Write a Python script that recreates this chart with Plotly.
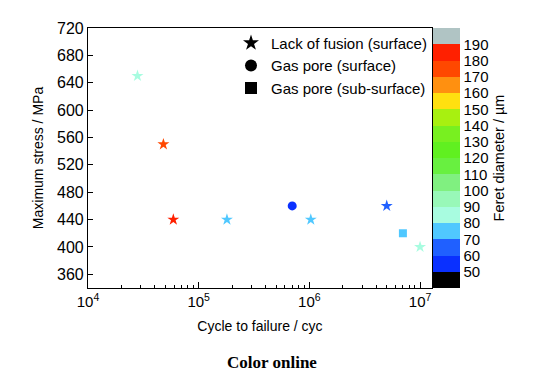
import plotly.graph_objects as go

# Data
lof_cycles = [2.8e4, 4.8e4, 5.9e4, 1.8e5, 1.03e6, 5.0e6, 1.0e7]
lof_stress = [650, 550, 440, 440, 440, 460, 400]
lof_feret = [85, 175, 183, 75, 75, 65, 85]

gp_surf_cycles = [7.0e5]
gp_surf_stress = [460]
gp_surf_feret = [55]

gp_sub_cycles = [7.0e6]
gp_sub_stress = [420]
gp_sub_feret = [75]

cbar_ticks = [50, 60, 70, 80, 90, 100, 110, 120, 130, 140, 150, 160, 170, 180, 190]
level_colors = ["#000000", "#0a30ff", "#2060ff", "#50c8ff", "#a8fce0", "#98f8b8",
                "#80f080", "#68f040", "#60f020", "#78f020", "#a8f010", "#ffe010",
                "#ff9010", "#ff4800", "#ff2000", "#b0c4c4"]
cmin, cmax = 40, 200

x_major = [1e4, 1e5, 1e6, 1e7]
x_major_text = ["10<sup>4</sup>", "10<sup>5</sup>", "10<sup>6</sup>", "10<sup>7</sup>"]
x_minor = [m * d for d in [1e4, 1e5, 1e6] for m in range(2, 10)]
y_ticks = [360, 400, 440, 480, 520, 560, 600, 640, 680, 720]

n = len(level_colors)
colorscale = []
for i, c in enumerate(level_colors):
    colorscale.append([i / n, c])
    colorscale.append([(i + 1) / n, c])

FONT = "Arial, Liberation Sans, sans-serif"

fig = go.Figure()

def add_data(x, y, c, symbol, size, showscale=False):
    marker = dict(symbol=symbol, size=size, color=c, colorscale=colorscale,
                  cmin=cmin, cmax=cmax, line=dict(width=0), showscale=showscale)
    if showscale:
        marker["colorbar"] = dict(
            x=1.002, xanchor="left", xref="paper", y=0.5, yanchor="middle",
            len=1.0, lenmode="fraction", thickness=27, outlinewidth=0,
            tickvals=cbar_ticks, ticks="", ticklen=0,
            tickfont=dict(family=FONT, size=15, color="black"),
            xpad=0, ypad=0,
            title=dict(text="Feret diameter / µm", side="right",
                       font=dict(family=FONT, size=14.5, color="black")),
        )
    fig.add_trace(go.Scatter(x=x, y=y, mode="markers", marker=marker,
                             showlegend=False, hoverinfo="x+y"))

add_data(lof_cycles, lof_stress, lof_feret, "star", 9, showscale=True)
add_data(gp_surf_cycles, gp_surf_stress, gp_surf_feret, "circle", 9)
add_data(gp_sub_cycles, gp_sub_stress, gp_sub_feret, "square", 8)

# legend entries (black symbols)
for name, sym, sz in [("Lack of fusion (surface)", "star", 8),
                      ("Gas pore (surface)", "circle", 7),
                      ("Gas pore (sub-surface)", "square", 5)]:
    fig.add_trace(go.Scatter(x=[None], y=[None], mode="markers", name=name,
                             marker=dict(symbol=sym, size=sz, color="black")))

fig.update_layout(
    width=529, height=375,
    margin=dict(l=80, r=105, t=20, b=95, autoexpand=False),
    paper_bgcolor="white", plot_bgcolor="white",
    font=dict(family=FONT, size=14, color="black"),
    legend=dict(x=1.0, y=1.005, xanchor="right", yanchor="top",
                bgcolor="rgba(0,0,0,0)", font=dict(size=15),
                itemsizing="constant", tracegroupgap=0, itemwidth=30),
    xaxis=dict(type="log", range=[4, 7.108], showgrid=False, zeroline=False,
               showline=True, linecolor="black", linewidth=1.2, mirror=True,
               ticks="inside", ticklen=6, tickcolor="black", tickwidth=1.2,
               tickvals=x_major, ticktext=x_major_text, automargin=False,
               tickfont=dict(size=15),
               minor=dict(ticks="inside", ticklen=3, tickcolor="black",
                          tickmode="array", tickvals=x_minor, showgrid=False),
               title=dict(text="Cycle to failure / cyc", font=dict(size=14), standoff=12)),
    yaxis=dict(range=[340, 720], showgrid=False, zeroline=False,
               showline=True, linecolor="black", linewidth=1.2, mirror=True,
               ticks="inside", ticklen=5, tickcolor="black", tickwidth=1.2,
               tickvals=y_ticks, automargin=False,
               tickfont=dict(size=16),
               title=dict(text="Maximum stress / MPa", font=dict(size=14), standoff=10)),
    annotations=[dict(text="<b>Color online</b>", xref="paper", yref="paper",
                      x=0.535, y=-0.285, xanchor="center", yanchor="middle", showarrow=False,
                      font=dict(family="Liberation Serif, Times New Roman, serif", size=17, color="black"))],
)

fig.write_html("out.html")
